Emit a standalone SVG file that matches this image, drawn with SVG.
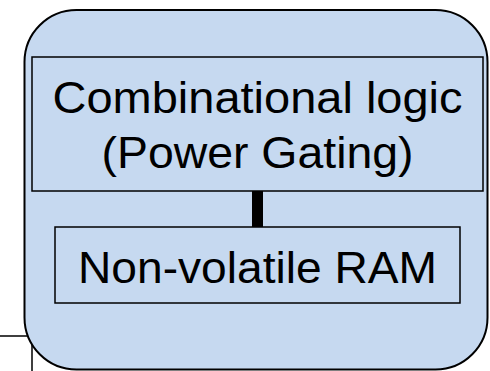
<svg xmlns="http://www.w3.org/2000/svg" width="490" height="371" viewBox="0 0 490 371">
<style>
.box{fill:#C6D9F0;stroke:#000;stroke-width:1.5}
.t{font-family:"Liberation Sans",Arial,sans-serif;fill:#000}
</style>
<rect width="490" height="371" fill="#fff"/>
<g id="edge-line">
<path d="M0 336 H32 V371" fill="none" stroke="#000" stroke-width="1.5"/>
</g>
<g id="container">
<rect x="24.5" y="10" width="463" height="359.5" rx="52" ry="52" fill="#C6D9F0" stroke="#000" stroke-width="2"/>
</g>
<g id="connectors">
<rect x="252" y="191" width="11" height="36" fill="#000"/>
</g>
<g id="comb">
<rect class="box" x="32" y="57" width="451" height="134"/>
<text class="t" x="257.5" y="113" font-size="45" text-anchor="middle" textLength="410" lengthAdjust="spacingAndGlyphs">Combinational logic</text>
<text class="t" x="257.5" y="168" font-size="45" text-anchor="middle" textLength="312" lengthAdjust="spacingAndGlyphs">(Power Gating)</text>
</g>
<g id="nvram">
<rect class="box" x="55" y="227" width="405" height="76"/>
<text class="t" x="257.5" y="283" font-size="45" text-anchor="middle" textLength="359" lengthAdjust="spacingAndGlyphs">Non-volatile RAM</text>
</g>
</svg>
